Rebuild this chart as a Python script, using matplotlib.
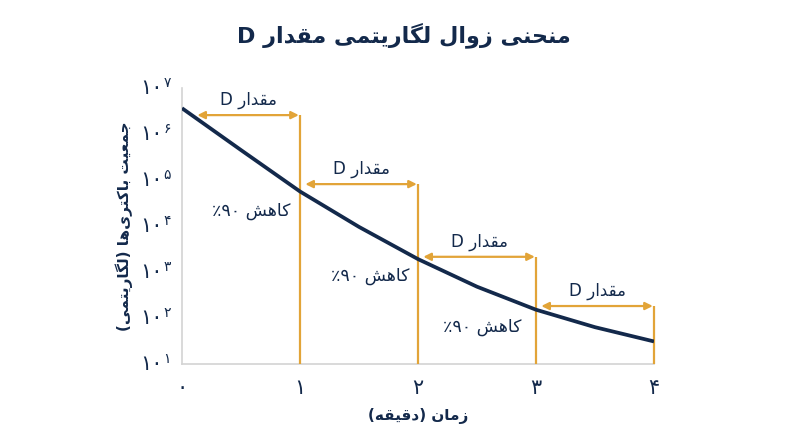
import re
import matplotlib
matplotlib.use("Agg")
import matplotlib.pyplot as plt
from matplotlib import font_manager, ft2font
from matplotlib.font_manager import FontProperties

# ---------------- data ----------------
time_min = [0, 0.5, 1, 1.5, 2, 2.5, 3, 3.5, 4]
log_population = [6.56, 5.65, 4.75, 3.98, 3.28, 2.68, 2.18, 1.80, 1.49]
population = [10 ** v for v in log_population]

d_start = [0.13, 1, 2, 3]
d_end = [1, 2, 3, 4]
d_level = [10 ** 6.41, 10 ** 4.91, 10 ** 3.33, 10 ** 2.26]

reduction_x = [0.92, 1.93, 2.88]
reduction_y = [10 ** 4.33, 10 ** 2.91, 10 ** 1.80]

x_ticks = [0, 1, 2, 3, 4]
x_tick_labels = ["۰", "۱", "۲", "۳", "۴"]
y_exponents = [1, 2, 3, 4, 5, 6, 7]
y_sup_labels = ["۱", "۲", "۳", "۴", "۵", "۶", "۷"]

title_text = "منحنی زوال لگاریتمی مقدار D"
d_text = "مقدار D"
reduction_text = "کاهش ۹۰٪"
x_label_text = "زمان (دقیقه)"
y_label_text = "جمعیت باکتری‌ها (لگاریتمی)"

NAVY = "#13294B"
GOLD = "#E2A438"
GRAY = "#D3D3D3"

# ---------------- Arabic shaping ----------------
FONT = "DejaVu Sans"
_path = font_manager.findfont(FontProperties(family=FONT))
_cmap = ft2font.FT2Font(_path).get_charmap()

FORMS = {
    'ا': ('\uFE8D', '\uFE8E', None, None),
    'ب': ('\uFE8F', '\uFE90', '\uFE91', '\uFE92'),
    'ت': ('\uFE95', '\uFE96', '\uFE97', '\uFE98'),
    'ج': ('\uFE9D', '\uFE9E', '\uFE9F', '\uFEA0'),
    'ح': ('\uFEA1', '\uFEA2', '\uFEA3', '\uFEA4'),
    'د': ('\uFEA9', '\uFEAA', None, None),
    'ر': ('\uFEAD', '\uFEAE', None, None),
    'ز': ('\uFEAF', '\uFEB0', None, None),
    'ش': ('\uFEB5', '\uFEB6', '\uFEB7', '\uFEB8'),
    'ع': ('\uFEC9', '\uFECA', '\uFECB', '\uFECC'),
    'ق': ('\uFED5', '\uFED6', '\uFED7', '\uFED8'),
    'ل': ('\uFEDD', '\uFEDE', '\uFEDF', '\uFEE0'),
    'م': ('\uFEE1', '\uFEE2', '\uFEE3', '\uFEE4'),
    'ن': ('\uFEE5', '\uFEE6', '\uFEE7', '\uFEE8'),
    'ه': ('\uFEE9', '\uFEEA', '\uFEEB', '\uFEEC'),
    'و': ('\uFEED', '\uFEEE', None, None),
    'ی': ('\uFBFC', '\uFBFD', '\uFBFE', '\uFBFF'),
    'ک': ('\uFB8E', '\uFB8F', '\uFB90', '\uFB91'),
    'گ': ('\uFB92', '\uFB93', '\uFB94', '\uFB95'),
}
FALLBACK = {
    'ی': ('\uFEEF', '\uFEF0', '\uFEF3', '\uFEF4'),
    'ک': ('\uFED9', '\uFEDA', '\uFEDB', '\uFEDC'),
    'گ': ('\uFED9', '\uFEDA', '\uFEDB', '\uFEDC'),
}
for k, v in FALLBACK.items():
    if any(ord(g) not in _cmap for g in FORMS[k]):
        FORMS[k] = v


def shape(s):
    out = []
    n = len(s)
    for i, c in enumerate(s):
        if c not in FORMS:
            out.append(c)
            continue
        f = FORMS[c]
        prev = s[i - 1] if i > 0 else None
        nxt = s[i + 1] if i < n - 1 else None
        jp = prev in FORMS and FORMS[prev][2] is not None
        jn = nxt in FORMS and f[2] is not None
        if jp and jn:
            g = f[3]
        elif jp:
            g = f[1]
        elif jn:
            g = f[2]
        else:
            g = f[0]
        out.append(g)
    return ''.join(out)


def rtl(s):
    shaped = shape(s).replace('\u200c', '')
    runs = re.findall(r'[A-Za-z0-9\u06F0-\u06F9]+|[^A-Za-z0-9\u06F0-\u06F9]', shaped)
    runs.reverse()
    vis = ''.join(runs)
    return vis.translate(str.maketrans('()', ')('))


plt.rcParams['font.family'] = [FONT]

# ---------------- figure ----------------
fig = plt.figure(figsize=(8.0, 4.47), dpi=100)
ax = fig.add_axes([0.2275, 0.1857, 0.59, 0.6175])
ax.set_yscale('log')
ax.set_xlim(0, 4)
ax.set_ylim(10, 1e7)

ax.plot(time_min, population, color=NAVY, lw=2.7, solid_capstyle='butt',
        solid_joinstyle='round', zorder=4)

for xs, xe, lvl in zip(d_start, d_end, d_level):
    ax.vlines(xe, 10, lvl, color=GOLD, lw=1.6, zorder=3, clip_on=False)
    x0 = xs + 0.045 if xs > 0.5 else xs
    ax.annotate('', xy=(xe - 0.01, lvl), xytext=(x0, lvl),
                arrowprops=dict(arrowstyle='<|-|>', color=GOLD, lw=1.6,
                                mutation_scale=11, shrinkA=0, shrinkB=0),
                zorder=3, annotation_clip=False)
    ax.annotate(rtl(d_text), xy=((x0 + xe) / 2, lvl), xytext=(0, 11),
                textcoords='offset points', ha='center', va='center',
                fontsize=12, color=NAVY, annotation_clip=False)

for rx, ry in zip(reduction_x, reduction_y):
    ax.text(rx, ry, rtl(reduction_text), ha='right', va='center', fontsize=12.5, color=NAVY)

# axes styling
for side in ['top', 'right']:
    ax.spines[side].set_visible(False)
for side in ['left', 'bottom']:
    ax.spines[side].set_color(GRAY)
    ax.spines[side].set_linewidth(1.2)
ax.set_xticks(x_ticks)
ax.set_xticklabels(x_tick_labels, fontsize=15, color=NAVY)
ax.tick_params(axis='x', length=0, pad=10)
ax.set_yticks([10 ** e for e in y_exponents])
ax.set_yticklabels([''] * len(y_exponents))
ax.minorticks_off()
ax.tick_params(axis='y', length=0)

for e, sup in zip(y_exponents, y_sup_labels):
    ax.annotate('۱۰', xy=(0, 10 ** e), xycoords=('axes fraction', 'data'),
                xytext=(-14, 0), textcoords='offset points', ha='right', va='center',
                fontsize=15, color=NAVY, annotation_clip=False)
    ax.annotate(sup, xy=(0, 10 ** e), xycoords=('axes fraction', 'data'),
                xytext=(-13.5, 3.5), textcoords='offset points', ha='left', va='center',
                fontsize=10, color=NAVY, annotation_clip=False)

ax.set_xlabel(rtl(x_label_text), fontsize=11, fontweight='bold', color=NAVY, labelpad=7)
ax.set_ylabel(rtl(y_label_text), fontsize=11, fontweight='bold', color=NAVY, labelpad=32)

fig.text(0.505, 0.922, rtl(title_text), ha='center', va='center', fontsize=16,
         fontweight='bold', color=NAVY)

fig.savefig('out.png', dpi=100, facecolor='white')
